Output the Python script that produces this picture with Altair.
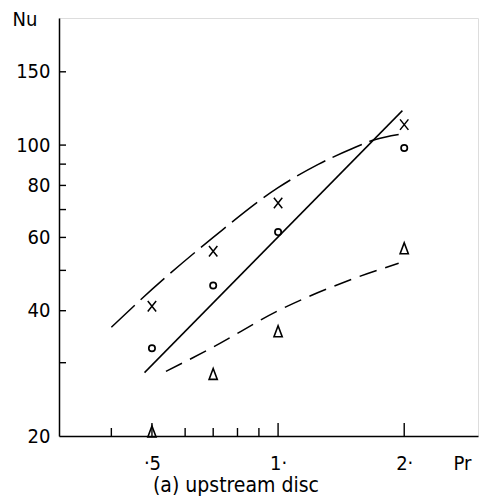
import altair as alt
import pandas as pd

FONT = "DejaVu Sans Condensed, DejaVu Sans, sans-serif"

# measured points
pr_points = [0.5, 0.7, 1.0, 2.0]
nu_cross = [41, 55.6, 72.6, 112]
nu_circle = [32.5, 46, 61.8, 98.4]
nu_triangle = [20.5, 28.2, 35.7, 56.5]

# fitted lines
solid_pr = [0.48, 1.98]
solid_nu = [28.4, 121]

long_dash_pr = [0.4, 0.5, 0.7, 1.0, 1.25, 1.5, 1.7, 1.94]
long_dash_nu = [36.5, 45, 60, 79, 90, 98, 103, 106]

short_dash_pr = [0.54, 0.7, 1.0, 1.5, 1.94]
short_dash_nu = [28.6, 32.7, 40, 47.6, 52]

# axis ticks / labels
x_major = [0.5, 1, 2]
x_minor = [0.4, 0.6, 0.7, 0.8, 0.9]
y_ticks = [30, 40, 50, 60, 70, 80, 90, 100, 150]
y_labels = [20, 40, 60, 80, 100, 150]

W, H = 419, 418

xs = alt.Scale(type="log", domain=[0.3, 3], nice=False)
ys = alt.Scale(type="log", domain=[20, 202], nice=False)

xaxis = alt.Axis(
    values=x_major,
    labelExpr="datum.value == 0.5 ? '·5' : (datum.value == 1 ? '1·' : '2·')",
    ticks=False, grid=False,
    domainColor="black", domainWidth=1.5,
    labelColor="black", labelFontSize=20, labelPadding=17, labelFont=FONT,
    labelFlush=False, labelOverlap=False,
    title="Pr", titleX=394, titleY=17, titleAlign="left", titleBaseline="top",
    titleAngle=0, titleFontSize=20, titleFontWeight="normal", titleColor="black",
    titleFont=FONT,
)
yaxis = alt.Axis(
    values=y_labels, format="d",
    ticks=False, grid=False,
    domainColor="black", domainWidth=1.5,
    labelColor="black", labelFontSize=20, labelPadding=9, labelFont=FONT,
    labelFlush=False, labelOverlap=False,
    title="Nu", titleX=-47, titleY=-9, titleAlign="left", titleBaseline="top",
    titleAngle=0, titleFontSize=20, titleFontWeight="normal", titleColor="black",
    titleFont=FONT,
)

X = alt.X("Pr:Q", scale=xs, axis=xaxis)
Y = alt.Y("Nu:Q", scale=ys, axis=yaxis)

pts_cross = pd.DataFrame({"Pr": pr_points, "Nu": nu_cross})
pts_circle = pd.DataFrame({"Pr": pr_points, "Nu": nu_circle})
pts_tri = pd.DataFrame({"Pr": pr_points, "Nu": nu_triangle})

solid = alt.Chart(pd.DataFrame({"Pr": solid_pr, "Nu": solid_nu})).mark_line(
    color="black", strokeWidth=1.5, clip=False
).encode(x=X, y=Y)

long_dash = alt.Chart(pd.DataFrame({"Pr": long_dash_pr, "Nu": long_dash_nu})).mark_line(
    color="black", strokeWidth=1.5, strokeDash=[32, 8], interpolate="monotone", clip=False
).encode(x=X, y=Y)

short_dash = alt.Chart(pd.DataFrame({"Pr": short_dash_pr, "Nu": short_dash_nu})).mark_line(
    color="black", strokeWidth=1.5, strokeDash=[18, 9], interpolate="monotone", clip=False
).encode(x=X, y=Y)

cross = alt.Chart(pts_cross).mark_point(
    shape="M-0.8,-1L0.8,1M0.8,-1L-0.8,1", size=110, filled=False,
    stroke="black", strokeWidth=1.5, opacity=1, clip=False
).encode(x=X, y=Y)

circle = alt.Chart(pts_circle).mark_point(
    shape="circle", size=40, filled=False, stroke="black", strokeWidth=1.7,
    opacity=1, clip=False
).encode(x=X, y=Y)

tri = alt.Chart(pts_tri).mark_point(
    shape="M0,-1L0.75,1L-0.75,1Z", size=120, filled=False, stroke="black",
    strokeWidth=1.6, opacity=1, clip=False
).encode(x=X, y=Y)

xt_major = alt.Chart(pd.DataFrame({"Pr": x_major})).mark_rule(
    color="black", strokeWidth=1.4
).encode(x=X, y=alt.value(H), y2=alt.value(H - 13))

xt_minor = alt.Chart(pd.DataFrame({"Pr": x_minor})).mark_rule(
    color="black", strokeWidth=1.4
).encode(x=X, y=alt.value(H), y2=alt.value(H - 8))

yt = alt.Chart(pd.DataFrame({"Nu": y_ticks})).mark_rule(
    color="black", strokeWidth=1.4
).encode(y=Y, x=alt.value(0), x2=alt.value(7))

chart = alt.layer(
    long_dash, solid, short_dash, cross, circle, tri, xt_major, xt_minor, yt
).properties(
    width=W, height=H,
    autosize=alt.AutoSizeParams(type="none"),
    padding={"left": 59, "top": 18, "right": 7, "bottom": 63},
    title=alt.TitleParams(
        "(a) upstream disc", orient="bottom", anchor="start", dx=141, offset=2,
        font=FONT, fontSize=21, fontWeight="normal", color="black",
    ),
).configure_view(stroke=None).configure(background="white")

chart.save("out.html", embed_options={"renderer": "svg", "actions": False})
